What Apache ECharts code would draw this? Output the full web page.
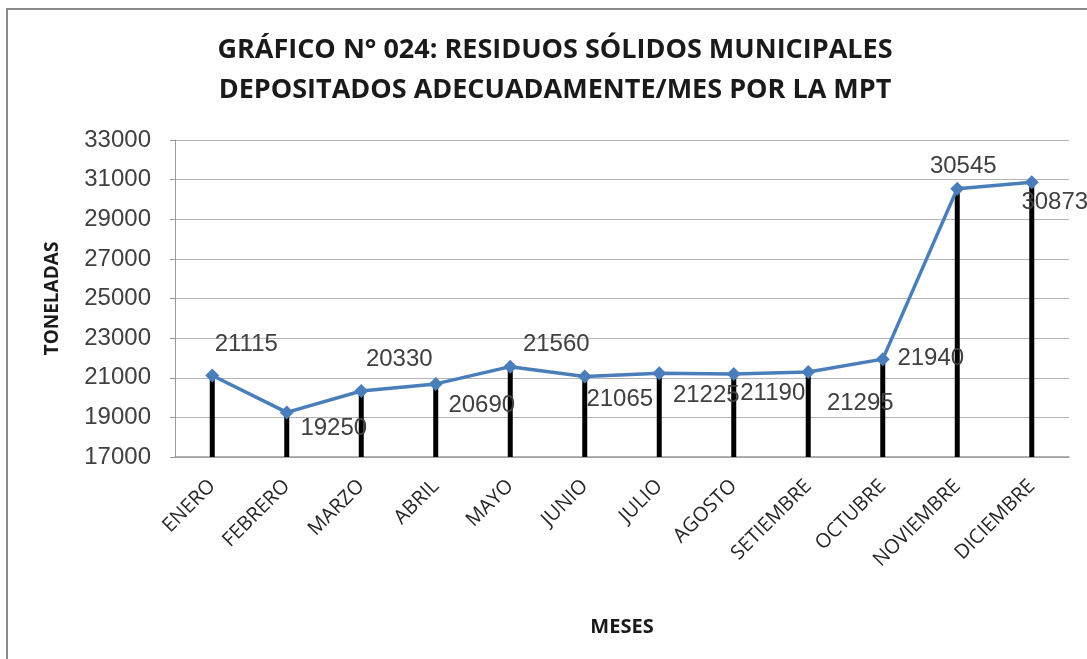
<!DOCTYPE html>
<html>
<head>
<meta charset="utf-8">
<script src="https://cdn.jsdelivr.net/npm/echarts@6/dist/echarts.min.js"></script>
<style>
  html, body {
    margin: 0;
    padding: 0;
    background: #ffffff;
  }
  #chart {
    width: 1087px;
    height: 659px;
  }
</style>
</head>
<body>
<div id="chart"></div>
<script>
const months = ['ENERO', 'FEBRERO', 'MARZO', 'ABRIL', 'MAYO', 'JUNIO', 'JULIO', 'AGOSTO', 'SETIEMBRE', 'OCTUBRE', 'NOVIEMBRE', 'DICIEMBRE']
const toneladas = [21115, 19250, 20330, 20690, 21560, 21065, 21225, 21190, 21295, 21940, 30545, 30873]
const yTicks = [17000, 19000, 21000, 23000, 25000, 27000, 29000, 31000, 33000]

// where Excel put each data label, relative to its point
const labelOffsets = [[34, -31], [47, 16], [38, -32], [46, 21], [46, -22], [35, 23], [47, 22], [39, 19], [52, 31], [48, -1], [6, -22], [23, 20]]

const numFont = '"Liberation Sans", Arial, sans-serif'
const narrowFont = '"Liberation Sans Narrow", "Open Sans", sans-serif'

const chart = echarts.init(document.getElementById('chart'))

const option = {
  animation: false,
  backgroundColor: '#ffffff',
  graphic: [
    {
      type: 'rect',
      shape: {x: 7, y: 9, width: 1200, height: 800},
      style: {fill: 'none', stroke: '#8a8a8a', lineWidth: 2}
    },
    {
      type: 'text',
      x: 555,
      y: 70,
      style: {
        text: 'GRÁFICO N° 024: RESIDUOS SÓLIDOS MUNICIPALES\nDEPOSITADOS ADECUADAMENTE/MES POR LA MPT',
        font: 'bold 27px ' + narrowFont,
        fill: '#1a1a1a',
        align: 'center',
        verticalAlign: 'middle',
        lineHeight: 40
      }
    }
  ],
  grid: {
    left: 175,
    right: 18,
    top: 140,
    bottom: 202
  },
  xAxis: {
    type: 'category',
    data: months,
    boundaryGap: true,
    name: 'MESES',
    nameLocation: 'middle',
    nameGap: 160,
    nameTextStyle: {
      fontFamily: narrowFont,
      fontWeight: 'bold',
      fontSize: 20,
      color: '#1a1a1a'
    },
    axisLine: {
      lineStyle: {color: '#9a9a9a', width: 1.5}
    },
    axisTick: {show: false},
    axisLabel: {
      rotate: 45,
      margin: 26,
      interval: 0,
      fontFamily: narrowFont,
      fontSize: 20,
      color: '#262626'
    }
  },
  yAxis: {
    type: 'value',
    min: yTicks[0],
    max: yTicks[yTicks.length - 1],
    interval: 2000,
    name: 'TONELADAS',
    nameLocation: 'middle',
    nameGap: 113,
    nameTextStyle: {
      fontFamily: narrowFont,
      fontWeight: 'bold',
      fontSize: 19,
      color: '#1a1a1a'
    },
    axisLine: {
      show: true,
      lineStyle: {color: '#9a9a9a'}
    },
    axisTick: {
      show: true,
      length: 5,
      lineStyle: {color: '#9a9a9a'}
    },
    axisLabel: {
      margin: 24,
      fontFamily: numFont,
      fontSize: 24,
      color: '#404040',
      formatter: (v) => String(v)
    },
    splitLine: {
      lineStyle: {color: '#b4b4b4', width: 1}
    }
  },
  series: [
    {
      name: 'drop',
      type: 'bar',
      data: toneladas,
      barWidth: 5,
      z: 1,
      itemStyle: {color: '#000000'}
    },
    {
      name: 'TONELADAS',
      type: 'line',
      data: toneladas.map((v, i) => ({
        value: v,
        label: {offset: labelOffsets[i]}
      })),
      z: 3,
      symbol: 'diamond',
      symbolSize: 14,
      itemStyle: {color: '#4a7ebb'},
      lineStyle: {color: '#4a7ebb', width: 3.5},
      label: {
        show: true,
        position: 'inside',
        fontFamily: numFont,
        fontSize: 24,
        color: '#404040'
      }
    }
  ]
}

chart.setOption(option)
</script>
</body>
</html>
